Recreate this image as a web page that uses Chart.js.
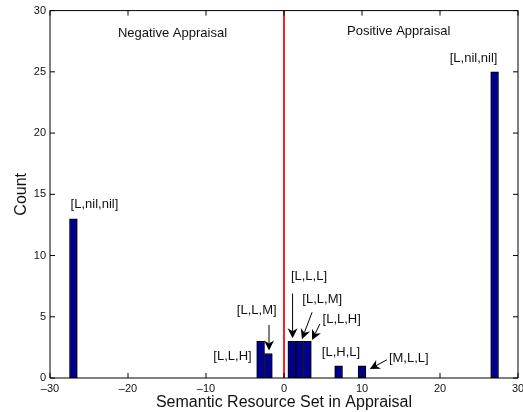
<!DOCTYPE html>
<html>
<head>
<meta charset="utf-8">
<script src="https://cdn.jsdelivr.net/npm/chart.js@4.4.1/dist/chart.umd.min.js"></script>
<style>
  html, body { margin: 0; padding: 0; background: #fff; }
  #wrap { width: 523px; height: 412px; position: relative; }
</style>
</head>
<body>
<div id="wrap"><canvas id="c" width="523" height="412"></canvas></div>
<script>
// Histogram of semantic resource sets (x = resource set position, y = count)
const binCenters = [-27, -3, -2, 1, 2, 3, 7, 10, 27];
const binCounts  = [13, 3, 2, 3, 3, 3, 1, 1, 25];

// Divider between negative and positive appraisal
const dividerX = 0;

// Axis ticks
const xTicks = [-30, -20, -10, 0, 10, 20, 30];
const yTicks = [0, 5, 10, 15, 20, 25, 30];

// Text annotations (data coordinates of text centre)
const noteText = ['Negative Appraisal', 'Positive Appraisal', '[L,nil,nil]', '[L,nil,nil]',
                  '[L,L,M]', '[L,L,H]', '[L,L,L]', '[L,L,M]', '[L,L,H]', '[L,H,L]', '[M,L,L]'];
const noteX = [-14.3, 14.7, -24.3, 24.3, -3.5, -6.6, 3.2, 4.9, 7.4, 7.3, 16.0];
const noteY = [28.1, 28.3, 14.2, 26.1, 5.55, 1.8, 8.3, 6.45, 4.8, 2.1, 1.57];

// Arrows: tail (x0,y0) -> head (x1,y1)
const arrowX0 = [-1.92, 1.1, 3.6, 4.6, 13.2];
const arrowY0 = [4.33, 6.9, 5.37, 4.41, 1.49];
const arrowX1 = [-1.92, 1.1, 2.3, 3.6, 11.0];
const arrowY1 = [2.24, 3.25, 3.17, 3.1, 0.73];

const FONT = '"Liberation Sans", Arial, Helvetica, sans-serif';

const boxAndNotes = {
  id: 'boxAndNotes',
  afterDraw(chart) {
    const ctx = chart.ctx;
    const xs = chart.scales.x, ys = chart.scales.y;
    const L = xs.getPixelForValue(-30), R = xs.getPixelForValue(30);
    const T = ys.getPixelForValue(30), B = ys.getPixelForValue(0);
    ctx.save();
    ctx.strokeStyle = '#000';
    ctx.lineWidth = 1;
    // axes box and inward tick marks on all sides
    const tl = 5;
    ctx.beginPath();
    ctx.moveTo(L, T); ctx.lineTo(R, T); ctx.lineTo(R, B); ctx.lineTo(L, B); ctx.closePath();
    xTicks.forEach(v => {
      const px = xs.getPixelForValue(v);
      ctx.moveTo(px, B); ctx.lineTo(px, B - tl);
      ctx.moveTo(px, T); ctx.lineTo(px, T + tl);
    });
    yTicks.forEach(v => {
      const py = ys.getPixelForValue(v);
      ctx.moveTo(L, py); ctx.lineTo(L + tl, py);
      ctx.moveTo(R, py); ctx.lineTo(R - tl, py);
    });
    ctx.stroke();

    // text notes
    ctx.fillStyle = '#111';
    ctx.font = '13px ' + FONT;
    ctx.textAlign = 'center';
    ctx.textBaseline = 'middle';
    noteText.forEach((t, i) => {
      ctx.fillText(t, xs.getPixelForValue(noteX[i]), ys.getPixelForValue(noteY[i]));
    });

    // arrows
    ctx.fillStyle = '#000';
    arrowX0.forEach((_, i) => {
      const x0 = xs.getPixelForValue(arrowX0[i]), y0 = ys.getPixelForValue(arrowY0[i]);
      const x1 = xs.getPixelForValue(arrowX1[i]), y1 = ys.getPixelForValue(arrowY1[i]);
      const ang = Math.atan2(y1 - y0, x1 - x0);
      const hl = 10, hw = 5;
      const bx = x1 - hl * Math.cos(ang), by = y1 - hl * Math.sin(ang);
      ctx.beginPath();
      ctx.moveTo(x0, y0); ctx.lineTo(bx + 3 * Math.cos(ang), by + 3 * Math.sin(ang));
      ctx.stroke();
      const nx = -Math.sin(ang), ny = Math.cos(ang);
      ctx.beginPath();
      ctx.moveTo(x1, y1);
      ctx.lineTo(bx + hw * nx, by + hw * ny);
      ctx.lineTo(bx + 3 * Math.cos(ang), by + 3 * Math.sin(ang));
      ctx.lineTo(bx - hw * nx, by - hw * ny);
      ctx.closePath();
      ctx.fill();
    });
    ctx.restore();
  }
};

const dash = v => (v < 0 ? '\u2013' + Math.abs(v) : String(v));

new Chart(document.getElementById('c'), {
  type: 'bar',
  data: {
    datasets: [
      {
        type: 'line',
        data: [{ x: dividerX, y: 0 }, { x: dividerX, y: 30 }],
        borderColor: '#ff2020',
        borderWidth: 2,
        pointRadius: 0,
        fill: false,
        order: 0
      },
      {
        type: 'bar',
        data: binCenters.map((x, i) => ({ x: x, y: binCounts[i] })),
        backgroundColor: '#00008c',
        borderColor: '#000',
        borderWidth: 1,
        borderSkipped: false,
        barPercentage: 1,
        categoryPercentage: 1,
        order: 1
      }
    ]
  },
  plugins: [boxAndNotes],
  options: {
    responsive: false,
    animation: false,
    layout: { padding: { top: 3, right: 5, left: 0, bottom: 0 } },
    plugins: { legend: { display: false }, tooltip: { enabled: false } },
    scales: {
      x: {
        type: 'linear',
        offset: false,
        min: -30, max: 30,
        afterBuildTicks: s => { s.ticks = xTicks.map(v => ({ value: v })); },
        afterFit: s => { s.height = 34; s.paddingRight = 0; s.paddingLeft = 0; },
        grid: { display: false, drawTicks: false },
        border: { display: false },
        ticks: {
          color: '#111', padding: 4, maxRotation: 0,
          font: { family: FONT, size: 11 },
          callback: v => dash(v)
        },
        title: {
          display: true, text: 'Semantic Resource Set in Appraisal',
          color: '#111', font: { family: FONT, size: 16 }, padding: { top: 0, bottom: 0 }
        }
      },
      y: {
        min: 0, max: 30,
        afterBuildTicks: s => { s.ticks = yTicks.map(v => ({ value: v })); },
        afterFit: s => { s.width = 50; },
        grid: { display: false, drawTicks: false },
        border: { display: false },
        ticks: {
          color: '#111', padding: 4,
          font: { family: FONT, size: 11 }
        },
        title: {
          display: true, text: 'Count',
          color: '#111', font: { family: FONT, size: 16 }, padding: { top: 12, bottom: 0 }
        }
      }
    }
  }
});
</script>
</body>
</html>
